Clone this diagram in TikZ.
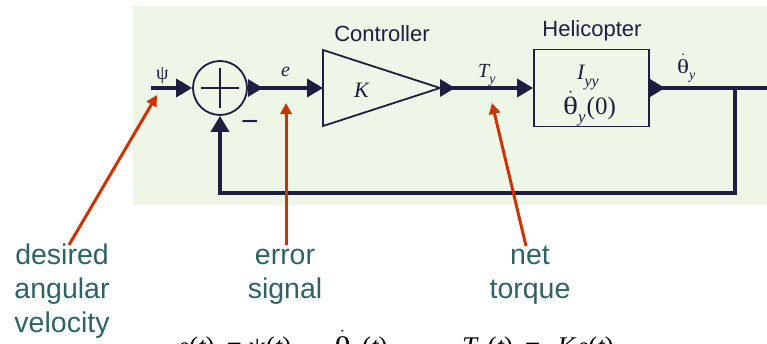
\documentclass[tikz,border=0pt]{standalone}
\usepackage{fontspec}
\setmainfont{Liberation Sans}
\newfontfamily\tms{Liberation Serif}
\usetikzlibrary{arrows.meta}
\definecolor{bggreen}{HTML}{EEF6E7}
\definecolor{navy}{HTML}{1E1E40}
\definecolor{redarr}{HTML}{CC3300}
\definecolor{tealtxt}{HTML}{2F6363}
\newcommand\lsub[2][14]{\raisebox{-0.32em}{\fontsize{#1}{#1}\selectfont\itshape #2}}
\newcommand\thd{$\dot{\hbox{\scalebox{1.25}[1]{θ}}}$}
\begin{document}
\begin{tikzpicture}[x=1pt,y=-1pt,
  sig/.style={navy, line width=3.5pt},
  blk/.style={draw=navy, line width=1.8pt},
  sigarr/.style={-{Triangle[length=16pt,width=18pt]}},
  portarr/.style={{Triangle[length=15pt,width=17pt,reversed]}-{Triangle[length=16pt,width=18pt]}},
  mlabel/.style={font=\tms\fontsize{20}{24}\selectfont, text=navy, inner sep=0pt, anchor=base west},
  hlabel/.style={font=\fontsize{22}{26}\selectfont, text=navy, inner sep=0pt},
  ann/.style={font=\fontsize{28.5}{34}\selectfont, text=tealtxt, align=center, inner sep=0pt},
  eqlabel/.style={font=\tms\fontsize{27}{30}\selectfont, text=black, inner sep=0pt, anchor=base west},
  redarrow/.style={draw=redarr, line width=3pt, -{Triangle[length=11pt,width=11pt]}}
]
\useasboundingbox (0,0) rectangle (767,343);
\fill[bggreen] (133,6) rectangle (767,205);

% summing junction
\node[circle, blk, minimum size=54pt, inner sep=0pt] (sum) at (220,88) {};
\draw[navy, line width=1.6pt] (sum.center) ++(-19,0) -- ++(38,0);
\draw[navy, line width=1.6pt] (sum.center) ++(0,-20) -- ++(0,40);
\node[font=\fontsize{30}{30}\selectfont, text=navy, inner sep=0pt] (minus) at (250,126) {−};

% input
\coordinate (psiin) at (151,88);
\draw[sig, sigarr] (psiin) -- (sum.west);

% controller
\coordinate (ctrlin) at (323,88);
\coordinate (ctrlout) at (440,88);
\draw[blk, line join=miter] (323,50) -- (ctrlout) -- (323,126) -- cycle;
\node[mlabel, font=\tms\fontsize{22}{24}\selectfont] (K) at (354,97) {\itshape K};
\draw[sig, portarr] (sum.east) -- (ctrlin);

% helicopter
\node[blk, minimum width=115pt, minimum height=77pt, inner sep=0pt] (heli) at (591.5,88) {};
\draw[sig, portarr] (ctrlout) -- (heli.west);
\coordinate (outend) at (768,88);
\coordinate (branch) at (735,88);
\draw[sig, {Triangle[length=15pt,width=17pt,reversed]}-] (heli.east) -- (outend);

% feedback
\coordinate (fbR) at (735,193);
\coordinate (fbL) at (220,193);
\draw[sig, sigarr, line join=miter] (branch) -- (fbR) -- (fbL) -- (sum.south);

% labels
\node[hlabel] (ctrlname) at (382,34) {Controller};
\node[hlabel] (heliname) at (592,31) {Helicopter};
\node[mlabel] (psi) at (156,79) {ψ};
\node[mlabel] (elab) at (281,76) {\itshape e};
\node[mlabel] (tylab) at (478,77) {\itshape T\lsub{y}};
\node[mlabel] (thlab) at (677,73) {\thd\lsub{y}};
\node[mlabel, font=\tms\fontsize{22}{24}\selectfont] (iyy) at (577,79) {\itshape I\lsub[16]{yy}};
\node[mlabel, font=\tms\fontsize{25}{28}\selectfont] (th0) at (563,114) {\thd\lsub[17]{y}\hspace{1pt}(0)};

% annotations
\node[ann, anchor=base] (desired) at (62,332) {desired\\angular\\velocity};
\node[ann, anchor=base] (error) at (285,298) {error\\signal};
\node[ann, anchor=base] (torque) at (530,298) {net\\torque};

\coordinate (a1s) at (69,245);
\coordinate (a1e) at (157,95);
\coordinate (a2s) at (286,245);
\coordinate (a2e) at (286,103);
\coordinate (a3s) at (526,246);
\coordinate (a3e) at (492,103);
\draw[redarrow] (a1s) -- (a1e);
\draw[redarrow] (a2s) -- (a2e);
\draw[redarrow] (a3s) -- (a3e);

% equations (cut off by the page edge)
\node[eqlabel] (eq1) at (177,355) {{\itshape e}({\itshape t})\hspace{12pt}=\hspace{7pt}ψ({\itshape t})\hspace{15pt}−\hspace{13pt}\thd\lsub[19]{y}\hspace{3pt}({\itshape t})};
\node[eqlabel] (eq2) at (462,355) {{\itshape T}\lsub[19]{y}\hspace{2pt}({\itshape t})\hspace{12pt}=\hspace{17pt}{\itshape K}\hspace{1pt}{\itshape e}({\itshape t})};
\end{tikzpicture}
\end{document}
